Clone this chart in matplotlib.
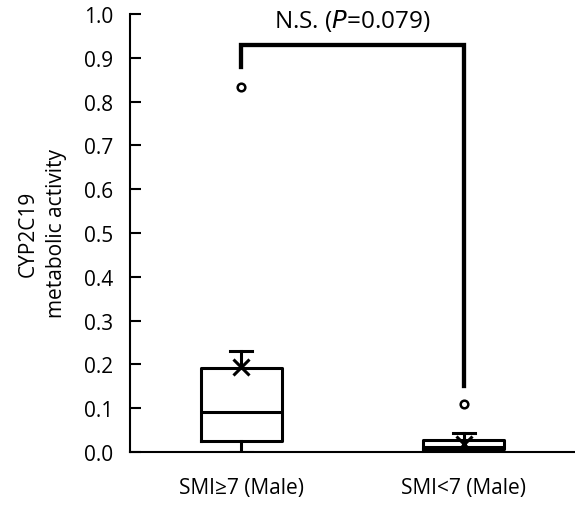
import matplotlib.pyplot as plt

# --- values ---
groups = ["SMI\u22657 (Male)", "SMI<7 (Male)"]
q1 = [0.024, 0.006]
med = [0.091, 0.012]
q3 = [0.192, 0.027]
whislo = [0.0, 0.0]
whishi = [0.23, 0.043]
means = [0.195, 0.019]
outliers = [[0.833], [0.11]]

p_text = "N.S. ($\\it{P}$=0.079)"

plt.rcParams['font.family'] = ['Open Sans', 'DejaVu Sans']

fig = plt.figure(figsize=(5.75, 5.06), dpi=100)
ax = fig.add_axes([130 / 575, 1 - 453 / 506, 445 / 575, 438 / 506])

stats = []
for i, g in enumerate(groups):
    stats.append(dict(label=g, q1=q1[i], med=med[i], q3=q3[i],
                      whislo=whislo[i], whishi=whishi[i],
                      mean=means[i], fliers=outliers[i]))

lw = 2.2
ax.bxp(stats, positions=[1, 2], widths=0.365, showmeans=True,
       boxprops=dict(color="black", linewidth=lw),
       medianprops=dict(color="black", linewidth=lw),
       whiskerprops=dict(color="black", linewidth=lw),
       capprops=dict(color="black", linewidth=lw),
       capwidths=0.1,
       meanprops=dict(marker="x", markersize=11, markeredgecolor="black",
                      markeredgewidth=2.2),
       flierprops=dict(marker="o", markersize=5.5, markerfacecolor="white",
                       markeredgecolor="black", markeredgewidth=1.8))

# significance bracket
ax.plot([1, 1, 2, 2], [0.88, 0.93, 0.93, 0.15], color="black", lw=3.1,
        solid_joinstyle="miter", clip_on=False)
ax.text(1.5, 0.986, p_text, ha="center", va="center", fontsize=17.5)

ax.set_xlim(0.5, 2.5)
ax.set_ylim(0, 1.0)
ax.set_yticks([i / 10 for i in range(11)])
ax.set_yticklabels([f"{i / 10:.1f}" for i in range(11)], fontsize=15)
ax.set_xticks([1, 2])
ax.set_xticklabels(groups, fontsize=15)
ax.tick_params(axis="y", direction="in", length=8, width=1.5, pad=12)
ax.tick_params(axis="x", length=0, pad=18)
for s in ["top", "right"]:
    ax.spines[s].set_visible(False)
for s in ["left", "bottom"]:
    ax.spines[s].set_linewidth(1.5)

ax.set_ylabel("CYP2C19\nmetabolic activity", fontsize=15, labelpad=12,
              linespacing=1.5)

fig.savefig("out.png", dpi=100)
